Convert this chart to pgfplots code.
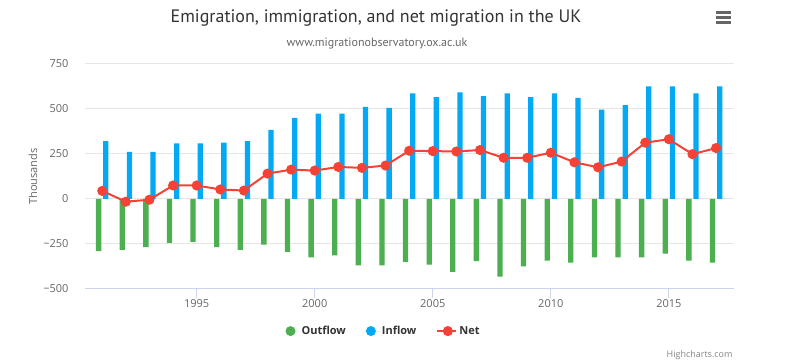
\documentclass[border=0pt]{standalone}
\usepackage{pgfplots}
\pgfplotsset{compat=1.18}
\usepackage{fontspec}
\setmainfont{Open Sans}
\newfontfamily\titlefont{PT Sans}
\definecolor{outc}{HTML}{4CAF50}
\definecolor{inc}{HTML}{03A9F4}
\definecolor{netc}{HTML}{F44336}
\definecolor{gridc}{HTML}{E6E6E6}
\definecolor{axc}{HTML}{CCD6EB}
\definecolor{txt}{HTML}{333333}
\definecolor{lab}{HTML}{666666}
\pgfplotstableread{
year out in net
1991 -289 322 45
1992 -283 262 -15
1993 -268 262 -4
1994 -244 309 75
1995 -238 309 75
1996 -268 313 53
1997 -283 322 47
1998 -253 384 141
1999 -294 450 163
2000 -324 474 158
2001 -313 474 178
2002 -369 512 173
2003 -369 506 186
2004 -349 587 268
2005 -364 566 266
2006 -405 592 264
2007 -345 572 272
2008 -431 587 229
2009 -375 566 229
2010 -343 587 257
2011 -354 562 204
2012 -324 497 176
2013 -324 521 208
2014 -324 626 313
2015 -304 626 332
2016 -343 587 249
2017 -354 626 283
}\data
\begin{document}
\begin{tikzpicture}
\path[use as bounding box] (0bp,0bp) rectangle (788bp,361bp);
\begin{axis}[
  at={(85bp,72bp)}, anchor=south west,
  scale only axis, width=649bp, height=225bp,
  xmin=1990.27, xmax=2017.76, ymin=-500, ymax=750,
  axis lines*=none,
  axis line style={draw=none},
  ytick={-500,-250,0,250,500,750},
  yticklabels={−500,−250,0,250,500,750},
  xtick={1995,2000,2005,2010,2015},
  xticklabels={1995,2000,2005,2010,2015},
  ymajorgrids, grid style={gridc, line width=1bp},
  y tick style={draw=none},
  x tick style={axc, line width=1bp},
  tick align=outside, major tick length=9bp,
  yticklabel style={font=\fontsize{11bp}{13bp}\selectfont, text=lab, xshift=-4bp},
  xticklabel style={font=\fontsize{11bp}{13bp}\selectfont, text=lab, yshift=2bp},
  ylabel={Thousands},
  ylabel style={at={(axis description cs:-0.0801,0.5)}, anchor=center, font=\fontsize{11bp}{13bp}\selectfont, text=lab},
  legend columns=3,
  legend style={at={(axis description cs:0.46,-0.187)}, anchor=center, draw=none, fill=none,
    font=\fontsize{11bp}{13bp}\selectfont\bfseries, text=txt,
    /tikz/every even column/.append style={column sep=18bp}},
  clip=false,
]
\draw[axc, line width=1bp] (axis cs:1990.27,-500) -- (axis cs:2017.76,-500);
\addplot[ybar, bar width=5.3bp, bar shift=-3.6bp, fill=outc, draw=none,
  legend image code/.code={\fill[outc] (0bp,0bp) circle (5bp); \path (-5bp,0bp) -- (9bp,0bp);}]
  table[x=year, y=out] {\data};
\addlegendentry{Outflow}
\addplot[ybar, bar width=5.3bp, bar shift=3.6bp, fill=inc, draw=none,
  legend image code/.code={\fill[inc] (0bp,0bp) circle (5bp); \path (-5bp,0bp) -- (9bp,0bp);}]
  table[x=year, y=in] {\data};
\addlegendentry{Inflow}
\addplot[netc, line width=2bp, mark=*, mark size=4bp, mark options={fill=netc, draw=none},
  legend image code/.code={\draw[netc, line width=2bp] (0bp,0bp) -- (15bp,0bp); \fill[netc] (7.5bp,0bp) circle (4bp); \path (-3bp,0bp) -- (16bp,0bp);}]
  table[x=year, y=net] {\data};
\addlegendentry{Net}
\end{axis}
\node[text=txt, font=\titlefont\fontsize{18bp}{20bp}\selectfont] at (376bp,343bp) {Emigration, immigration, and net migration in the UK};
\node[text=lab, font=\titlefont\fontsize{12bp}{14bp}\selectfont] at (377bp,317bp) {www.migrationobservatory.ox.ac.uk};
\node[text=lab!80, font=\fontsize{9bp}{11bp}\selectfont, anchor=base east] at (736bp,4bp) {Highcharts.com};
\foreach \yy in {337,342,347}{\fill[lab] (716bp,\yy bp) rectangle (731bp,\yy bp+3bp);}
\end{tikzpicture}
\end{document}
